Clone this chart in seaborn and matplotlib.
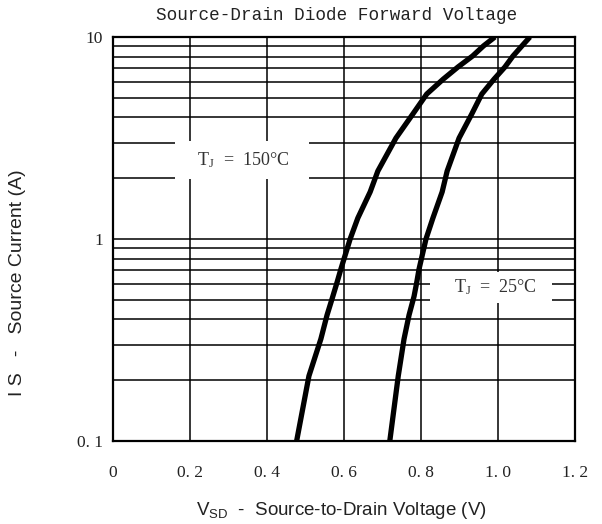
import matplotlib
matplotlib.use("Agg")
import matplotlib.pyplot as plt
import pandas as pd
import seaborn as sns
from matplotlib.ticker import FixedLocator, LogLocator, NullFormatter

# values
current = [0.1, 0.21, 0.32, 0.42, 0.52, 0.61, 0.71, 1.0, 1.27, 1.71,
           2.17, 3.16, 4.16, 5.22, 6.19, 7.1, 8.05, 9.02, 10]
v_150 = [0.477, 0.509, 0.540, 0.556, 0.571, 0.582, 0.592, 0.616, 0.636, 0.668,
         0.688, 0.735, 0.779, 0.815, 0.858, 0.896, 0.934, 0.962, 0.992]
v_25 = [0.719, 0.741, 0.756, 0.769, 0.782, 0.789, 0.795, 0.813, 0.831, 0.855,
        0.868, 0.899, 0.932, 0.958, 0.990, 1.018, 1.039, 1.062, 1.083]

x_ticks = [0, 0.2, 0.4, 0.6, 0.8, 1.0, 1.2]
x_labels = ["0", "0. 2", "0. 4", "0. 6", "0. 8", "1. 0", "1. 2"]
y_ticks = [0.1, 1, 10]
y_labels = ["0. 1", "1", "10"]


def main():
    sns.set_style("white")
    plt.rcParams["font.family"] = ["Liberation Serif", "DejaVu Serif"]

    df = pd.concat([
        pd.DataFrame({"V": v_150, "I": current, "T": "150"}),
        pd.DataFrame({"V": v_25, "I": current, "T": "25"}),
    ])

    fig = plt.figure(figsize=(6.02, 5.24), dpi=100)
    ax = fig.add_axes([0.1877, 0.1584, 0.7674, 0.771])

    sns.lineplot(data=df, x="V", y="I", hue="T", palette=["black", "black"],
                 sort=False, estimator=None, linewidth=3.8, legend=False, ax=ax,
                 solid_capstyle="butt", solid_joinstyle="round")

    ax.set_yscale("log")
    ax.set_xlim(0, 1.2)
    ax.set_ylim(0.1, 10)

    ax.xaxis.set_major_locator(FixedLocator(x_ticks))
    ax.set_xticklabels(x_labels)
    ax.yaxis.set_major_locator(FixedLocator(y_ticks))
    ax.set_yticklabels(y_labels)
    ax.yaxis.set_minor_locator(LogLocator(base=10, subs=range(2, 10)))
    ax.yaxis.set_minor_formatter(NullFormatter())

    ax.grid(True, which="major", axis="x", color="black", linewidth=1.1)
    ax.grid(True, which="both", axis="y", color="black", linewidth=1.1)
    ax.tick_params(axis="both", which="both", length=0, labelsize=12.5,
                   colors="#222222")
    ax.tick_params(axis="x", pad=17)
    ax.tick_params(axis="y", pad=7)

    for s in ax.spines.values():
        s.set_color("black")
        s.set_linewidth(1.6)
        s.set_zorder(5)

    ax.set_title("Source-Drain Diode Forward Voltage", family="Liberation Mono",
                 fontsize=12.7, color="#222222", pad=12, x=0.485)

    ax.set_xlabel(r"V$\mathregular{_{SD}}$  -  Source-to-Drain Voltage (V)",
                  family="Liberation Sans", fontsize=13.5, color="#222222")
    ax.xaxis.set_label_coords(0.495, -0.145)
    ax.set_ylabel("I S   -   Source Current (A)", family="Liberation Sans",
                  fontsize=14, color="#222222")
    ax.yaxis.set_label_coords(-0.188, 0.393)

    ax.text(0.335, 2.46, "   T$\\mathregular{_J}$  =  150°C   ", ha="center",
            va="center", fontsize=13, color="#333333", zorder=4,
            bbox=dict(facecolor="white", edgecolor="none", pad=6.5))
    ax.text(0.982, 0.575, "    T$\\mathregular{_J}$  =  25°C   ", ha="center",
            va="center", fontsize=13, color="#333333", zorder=4,
            bbox=dict(facecolor="white", edgecolor="none", pad=4.3))

    fig.savefig("out.png", dpi=100, facecolor="white")


if __name__ == "__main__":
    main()
